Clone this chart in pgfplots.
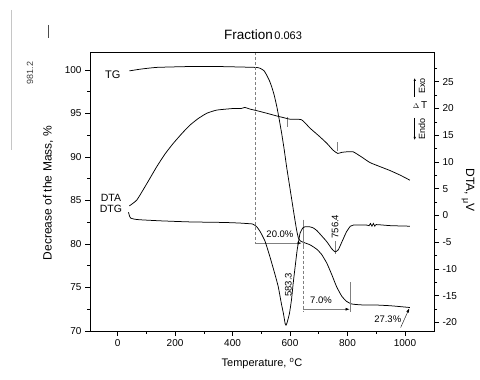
\documentclass[border=0pt]{standalone}
\usepackage{fontspec}
\setmainfont{Liberation Sans}
\usepackage{pgfplots}
\pgfplotsset{compat=1.18}
\usetikzlibrary{arrows.meta}

\pgfplotstableread{
T L
41 99.9
80 100.1
136 100.3
252 100.4
350 100.4
478 100.3
496 100.2
510 99.9
519 99.4
528 98.8
536 98.1
545 97.1
554 95.8
562 94.4
571 92.7
580 90.8
588 88.9
597 87.0
606 85.1
615 83.2
623 81.6
629 80.7
636 80.35
646 80.2
670 79.9
693 79.4
710 78.8
728 77.8
745 76.5
762 75.1
780 74.0
797 73.4
815 73.1
850 73.0
890 73.0
950 72.9
1017 72.7
}\tgdata

\pgfplotstableread{
T R
41 1.8
67 2.9
100 5.8
136 9.1
165 11.5
194 13.5
225 15.4
252 16.9
280 18.1
310 19.1
345 19.7
403 20.0
430 20.0
443 20.2
460 19.9
484 19.6
520 19.1
554 18.6
577 18.3
600 18.0
640 17.9
670 16.3
700 14.9
728 13.5
750 12.2
766 11.6
780 11.8
797 11.9
820 11.9
850 10.9
878 9.9
910 9.2
948 8.4
985 7.5
1017 6.6
}\dtadata

\pgfplotstableread{
T R
38 0.6
42 -0.2
46 -0.5
60 -0.7
78 -0.8
150 -1.0
252 -1.2
368 -1.3
420 -1.4
449 -1.5
470 -1.6
484 -2.1
496 -3.0
513 -4.8
530 -7.7
545 -10.5
559 -13.3
570 -16.5
577 -18.3
583 -20.2
586 -20.5
590 -20.0
598 -18.3
605 -15.8
611 -12.7
618 -9.5
625 -6.4
635 -3.3
645 -2.3
652 -2.1
667 -2.1
680 -2.3
693 -2.8
710 -3.8
728 -4.9
745 -6.2
757 -6.8
768 -6.4
780 -5.0
790 -3.8
797 -3.0
810 -2.0
820 -1.8
867 -1.8
875 -1.9
880 -1.5
885 -2.0
890 -1.5
895 -2.0
900 -1.7
950 -1.9
1017 -2.0
}\dtgdata

\begin{document}
\begin{tikzpicture}[x=1pt,y=1pt]
\path[use as bounding box] (0,0) rectangle (480,380);
% scan artefacts on the left
\draw[gray!45, line width=0.6pt] (11.7,370) -- (11.7,230);
\node[rotate=90, font=\fontsize{9}{10}\selectfont, black!75] at (30,307) {981.2};
\draw[black!70, line width=0.6pt] (48,355) -- (48,342);
% title
\node at (263,345) {{\fontsize{13.5}{14}\selectfont Fraction}\,{\fontsize{11}{12}\selectfont 0.063}};
% axis labels
\node[rotate=90, font=\fontsize{12}{14}\selectfont] at (48,187) {Decrease of the Mass, \%};
\node[font=\fontsize{11}{13}\selectfont] at (262,16) {Temperature, \textsuperscript{o}C};
\node[rotate=-90, font=\fontsize{12}{14}\selectfont] at (468,190) {DTA, \raisebox{-0.4ex}{\fontsize{9}{10}\selectfont μ}V};
% Exo / Endo marks
\draw[-{Latex[length=3pt,width=2.5pt]}, line width=0.6pt] (414.7,283) -- (414.7,302);
\node[rotate=90, font=\fontsize{9}{10}\selectfont] at (422,294) {Exo};
\node[font=\fontsize{10}{11}\selectfont] at (420,275) {{\fontsize{7}{8}\selectfont$\Delta$}\,T};
\draw[-{Latex[length=3pt,width=2.5pt]}, line width=0.6pt] (414.7,262) -- (414.7,240);
\node[rotate=90, font=\fontsize{9}{10}\selectfont] at (422,251) {Endo};

\begin{axis}[at={(90pt,49pt)}, anchor=south west, width=344pt, height=279pt, scale only axis,
  xmin=-96, xmax=1101, ymin=70, ymax=102.07,
  xtick={0,200,...,1000}, minor xtick={100,300,...,900},
  ytick={70,75,...,100}, minor ytick={72.5,77.5,...,97.5},
  tick align=outside, xtick pos=bottom, ytick pos=left,
  major tick length=5pt, minor tick length=3pt,
  tick style={black, line width=0.6pt},
  axis line style={line width=0.7pt},
  tick label style={font=\fontsize{10}{11}\selectfont},
  /pgf/number format/1000 sep={},
  /pgf/number format/assume math mode=true,
  clip=false]
\addplot[black, line width=0.75pt, smooth, tension=0.3] table[x=T,y=L] {\tgdata};
% annotations
\draw[gray, densely dashed, line width=0.4pt] (axis cs:478,102.07) -- (axis cs:478,80.1);
\draw[gray, line width=0.5pt, -{Latex[length=4pt,width=3pt,black]}] (axis cs:478,80.1) -- (axis cs:640,80.1);
\draw[gray, line width=0.5pt] (axis cs:646,82.8) -- (axis cs:646,79.8);
\draw[gray, densely dashed, line width=0.4pt] (axis cs:646,79.8) -- (axis cs:646,72.3);
\draw[gray, line width=0.5pt, -{Latex[length=4pt,width=3pt,black]}] (axis cs:646,72.5) -- (axis cs:807,72.5);
\draw[gray, line width=0.5pt] (axis cs:809,75.6) -- (axis cs:809,72.2);
\draw[black, line width=0.4pt, -{Latex[length=4pt,width=3pt]}] (axis cs:985,70.4) -- (axis cs:1015,72.6);
\draw[gray, line width=0.5pt] (axis cs:590,94.6) -- (axis cs:590,93.5);
\draw[gray, line width=0.5pt] (axis cs:766,91.7) -- (axis cs:766,90.7);
\draw[gray, line width=0.5pt] (axis cs:756,80.3) -- (axis cs:756,78.9);
% labels
\node[font=\fontsize{11}{12}\selectfont] at (axis cs:-17,99.5) {TG};
\node[font=\fontsize{10.5}{12}\selectfont] at (axis cs:-23,85.3) {DTA};
\node[font=\fontsize{10.5}{12}\selectfont] at (axis cs:-23,84.0) {DTG};
\node[font=\fontsize{9.5}{10}\selectfont] at (axis cs:565,81.1) {20.0\%};
\node[rotate=90, font=\fontsize{9.5}{10}\selectfont] at (axis cs:594,75.3) {583.3};
\node[rotate=90, font=\fontsize{9.5}{10}\selectfont] at (axis cs:756.5,82.0) {756.4};
\node[font=\fontsize{9.5}{10}\selectfont] at (axis cs:708,73.5) {7.0\%};
\node[font=\fontsize{9.5}{10}\selectfont] at (axis cs:940,71.3) {27.3\%};
\end{axis}

\begin{axis}[at={(90pt,49pt)}, anchor=south west, width=344pt, height=279pt, scale only axis,
  xmin=-96, xmax=1101, ymin=-21.59, ymax=30.56,
  axis x line=none, axis y line*=right,
  ytick={-20,-15,...,25}, minor ytick={-17.5,-12.5,...,27.5},
  tick align=outside,
  major tick length=5pt, minor tick length=3pt,
  tick style={black, line width=0.6pt},
  axis line style={line width=0.7pt},
  tick label style={font=\fontsize{10}{11}\selectfont},
  /pgf/number format/assume math mode=true]
\addplot[black, line width=0.75pt, smooth, tension=0.3] table[x=T,y=R] {\dtadata};
\addplot[black, line width=0.75pt, smooth, tension=0.3] table[x=T,y=R] {\dtgdata};
\end{axis}
% top frame line
\draw[line width=0.7pt] (90,328) -- (434,328);
\end{tikzpicture}
\end{document}
